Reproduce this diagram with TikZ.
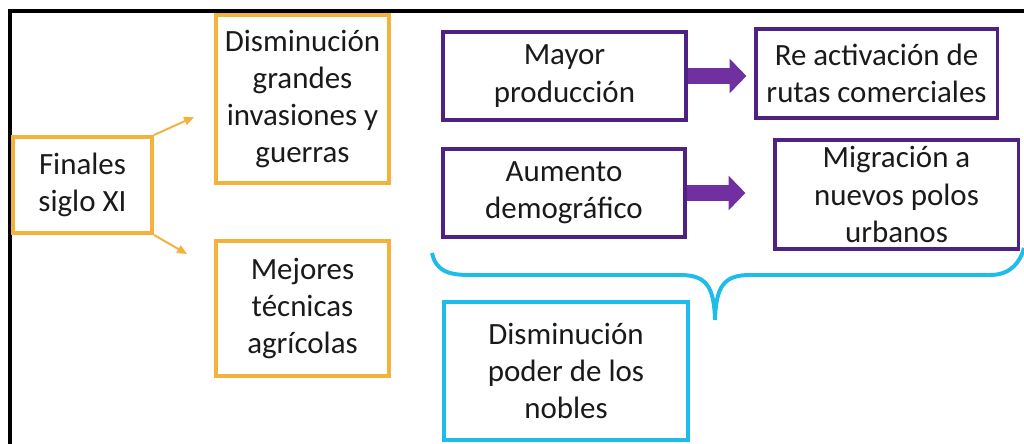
\documentclass[tikz,border=0pt]{standalone}
\usepackage{fontspec}
\setmainfont{Carlito}
\usetikzlibrary{arrows.meta}
\definecolor{naranja}{HTML}{F2B23C}
\definecolor{morado}{HTML}{4F2183}
\definecolor{moradoflecha}{HTML}{7030A0}
\definecolor{celeste}{HTML}{1DBCEB}
\definecolor{texto}{HTML}{1A1A1A}

\begin{document}
\begin{tikzpicture}[x=0.025cm,y=-0.025cm,
		every node/.style={font=\fontsize{22}{26.5}\selectfont,text=texto,align=center,inner sep=0pt},
		cajanar/.style={draw=naranja,line width=2.8pt},
		cajamor/.style={draw=morado,line width=2.2pt},
		cajacel/.style={draw=celeste,line width=2.8pt},
		flechanar/.style={naranja,line width=1.4pt,-{Triangle[length=7pt,width=6pt]}},
		flechamor/.style={moradoflecha,line width=10.7pt,-{Triangle[length=12pt,width=24pt]}}]
			\useasboundingbox (0,0) rectangle (1024,444);
			% marco
			\draw[line width=2.8pt] (10,446) -- (10,11) -- (1026,11);
			
			% columna izquierda
			\node[cajanar,minimum width=3.475cm,minimum height=2.4cm] (fin) at (82.5,185) {Finales\\ siglo XI};
			\node[cajanar,minimum width=4.325cm,minimum height=4.2cm] (dis) at (302.5,99) {Disminución\\ grandes\\ invasiones y\\ guerras};
			\node[cajanar,minimum width=4.325cm,minimum height=3.375cm] (mej) at (302.5,308.5) {Mejores\\ técnicas\\ agrícolas};
			\coordinate (fa) at (194,117);
			\coordinate (fb) at (187,254);
			\draw[flechanar] (fin.north east) -- (fa);
			\draw[flechanar] (fin.south east) -- (fb);
			
			% consecuencias
			\node[cajamor,minimum width=6.075cm,minimum height=2.2cm] (may) at (564.5,76) {Mayor\\ producción};
			\node[cajamor,minimum width=6.025cm,minimum height=2.225cm] (rea) at (876.5,73.5) {Re activación de\\ rutas comerciales};
			\node[cajamor,minimum width=6.05cm,minimum height=2.2cm] (aum) at (564,193) {Aumento\\ demográfico};
			\node[cajamor,minimum width=6.075cm,minimum height=2.725cm] (mig) at (896.5,194.5) {Migración a\\ nuevos polos\\ urbanos};
			\draw[flechamor,shorten >=0.2cm] (may.east) -- (may.east -| rea.west);
			\draw[flechamor,shorten >=0.7cm] (aum.east) -- (aum.east -| mig.west);
			
			% llave
			\draw[celeste,line width=2.8pt] (432,253) .. controls (436,271) and (448,275) .. (470,275) -- (680,275)
				.. controls (706,275) and (714,286) .. (715,320);
			\draw[celeste,line width=2.8pt] (715,320) .. controls (716,286) and (724,275) .. (750,275) -- (990,275)
				.. controls (1010,275) and (1020,263) .. (1024,248);
			\node[cajacel,minimum width=6.1cm,minimum height=3.45cm] (pod) at (566,371) {Disminución\\ poder de los\\ nobles};
		\end{tikzpicture}
\end{document}
